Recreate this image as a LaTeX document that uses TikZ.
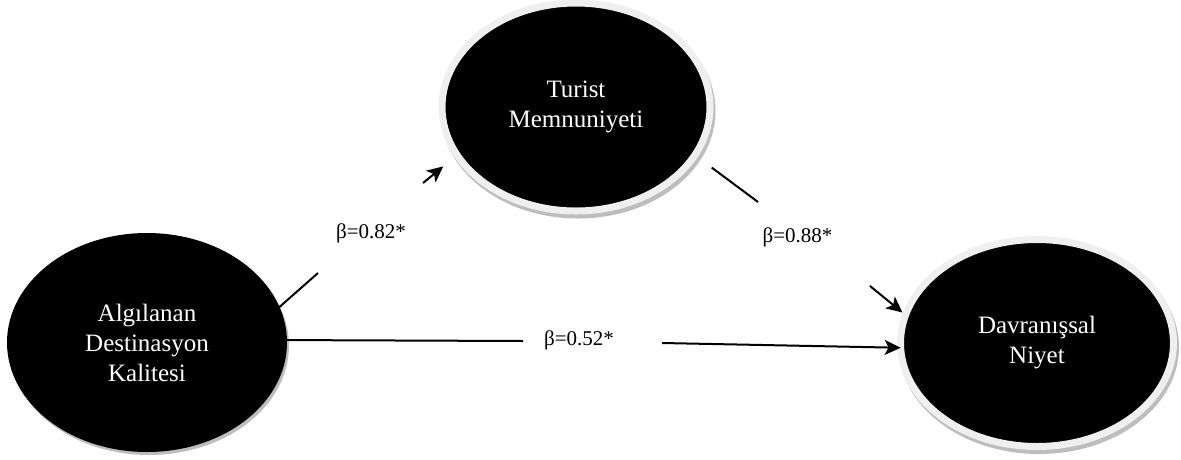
\documentclass[tikz,border=0pt]{standalone}
\usepackage{fontspec}
\setmainfont{Liberation Serif}
\usetikzlibrary{shapes.geometric,arrows.meta,calc}
\pgfdeclarelayer{background}
\pgfsetlayers{background,main}
\definecolor{ringc}{HTML}{EFEFEF}
\definecolor{shadc}{HTML}{BDBDBD}
\begin{document}
\begin{tikzpicture}[x=1pt,y=-1pt,
  latent/.style={ellipse, fill=black, text=white, align=center,
    font=\fontsize{25}{30}\selectfont, inner sep=0pt, outer sep=0pt},
  ringed/.style={draw=ringc, line width=7pt},
  conn/.style={line width=2pt, draw=black},
  tip/.style={-{Stealth[length=16pt,width=15pt,inset=4pt]}},
  lab/.style={font=\fontsize{21}{24}\selectfont, inner sep=0pt}]
\useasboundingbox (0,0) rectangle (1181,459);

\node[latent, minimum width=280pt, minimum height=219pt] (L) at (147,342.5)
  {Algılanan\\Destinasyon\\Kalitesi};
\node[latent, ringed, minimum width=268pt, minimum height=208pt] (T) at (576,107)
  {Turist\\Memnuniyeti};
\node[latent, ringed, minimum width=273pt, minimum height=207pt] (R) at (1037,343)
  {Davranışsal\\Niyet};

\begin{pgfonlayer}{background}
  \fill[shadc] ($(L.center)+(2,3)$) ellipse [x radius=140, y radius=109.5];
  \fill[shadc] ($(T.center)+(2,4)$) ellipse [x radius=137.5, y radius=107.5];
  \fill[shadc] ($(R.center)+(2,4)$) ellipse [x radius=140, y radius=107];
\end{pgfonlayer}

% gaps around the labels
\coordinate (g1a) at (318,273);
\coordinate (g1b) at (423,183);
\coordinate (g2a) at (523,341);
\coordinate (g2b) at (662,343);
\coordinate (g3a) at (758,202);
\coordinate (g3b) at (870,286);

\draw[conn] (L.15) -- (g1a);
\draw[conn, tip, shorten >=18pt] (g1b) -- (T.202);

\draw[conn] (L.1) -- (g2a);
\draw[conn, tip] (g2b) -- (R.182);

\draw[conn, shorten <=21pt] (T.-22) -- (g3a);
\draw[conn, tip, shorten >=4pt] (g3b) -- (R.168);

\node[lab] (b1) at (371,233) {β=0.82*};
\node[lab] (b2) at (579,340) {β=0.52*};
\node[lab] (b3) at (797.5,237) {β=0.88*};
\end{tikzpicture}
\end{document}
